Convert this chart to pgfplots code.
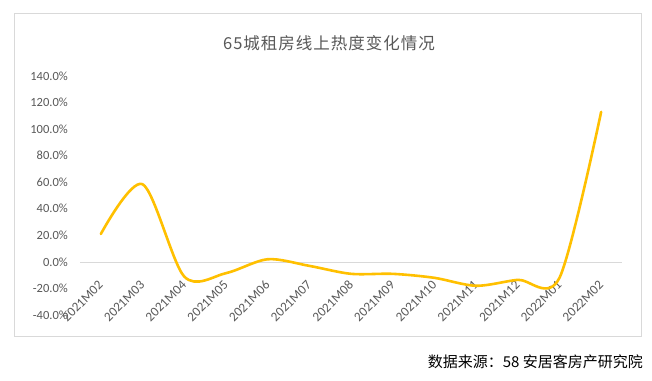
\documentclass[border=0pt]{standalone}
\usepackage{fontspec}
\setmainfont{Carlito}
\newfontfamily\cjk{Noto Sans CJK SC}
\newfontfamily\cjkwide[LetterSpace=6]{Noto Sans CJK SC}
\usepackage{pgfplots}
\pgfplotsset{compat=1.18}
\definecolor{txt}{HTML}{595959}
\definecolor{gold}{HTML}{FFC000}
\definecolor{bord}{HTML}{D9D9D9}
\begin{document}
\begin{tikzpicture}
\useasboundingbox (-80pt,-65pt) rectangle (572pt,315pt);
\fill[white] (-80pt,-65pt) rectangle (572pt,315pt);
\draw[bord, line width=0.75pt] (-66pt,-21pt) rectangle (561pt,302pt);
\begin{axis}[
 at={(0,0)}, anchor=south west, scale only axis,
 width=542pt, height=239pt,
 xmin=-0.5, xmax=12.5, ymin=-40, ymax=140,
 axis x line=middle, axis y line=left,
 x axis line style={draw=bord, line width=0.75pt, -},
 y axis line style={draw=none, -},
 major tick length=0pt,
 xtick={0,1,2,3,4,5,6,7,8,9,10,11,12},
 xticklabels={2021M02,2021M03,2021M04,2021M05,2021M06,2021M07,2021M08,2021M09,2021M10,2021M11,2021M12,2022M01,2022M02},
 ytick={-40,-20,0,20,40,60,80,100,120,140},
 yticklabels={-40.0\%,-20.0\%,0.0\%,20.0\%,40.0\%,60.0\%,80.0\%,100.0\%,120.0\%,140.0\%},
 tick label style={text=txt},
 yticklabel style={font=\fontsize{12.5}{14}\selectfont, anchor=east, inner sep=0pt, xshift=-12pt},
 xticklabel style={font=\fontsize{13.2}{15}\selectfont, yshift=-21pt, rotate=45, anchor=east, inner sep=0pt},
 clip=false,
]
\addplot[gold, line width=2.6pt, smooth, tension=0.5, line cap=round, line join=round] coordinates {
(0,21) (1,58.5) (2,-11) (3,-8.5) (4,2) (5,-3) (6,-9) (7,-9) (8,-12) (9,-18) (10,-13.5) (11,-12) (12,113)
};
\end{axis}
\node[text=txt, font=\cjkwide\fontsize{16.5}{18}\selectfont] at (249pt,272pt) {65城租房线上热度变化情况};
\node[anchor=east, inner sep=0pt, font=\cjk\fontsize{15}{17}\selectfont] at (563pt,-47pt) {数据来源：58 安居客房产研究院};
\end{tikzpicture}
\end{document}
